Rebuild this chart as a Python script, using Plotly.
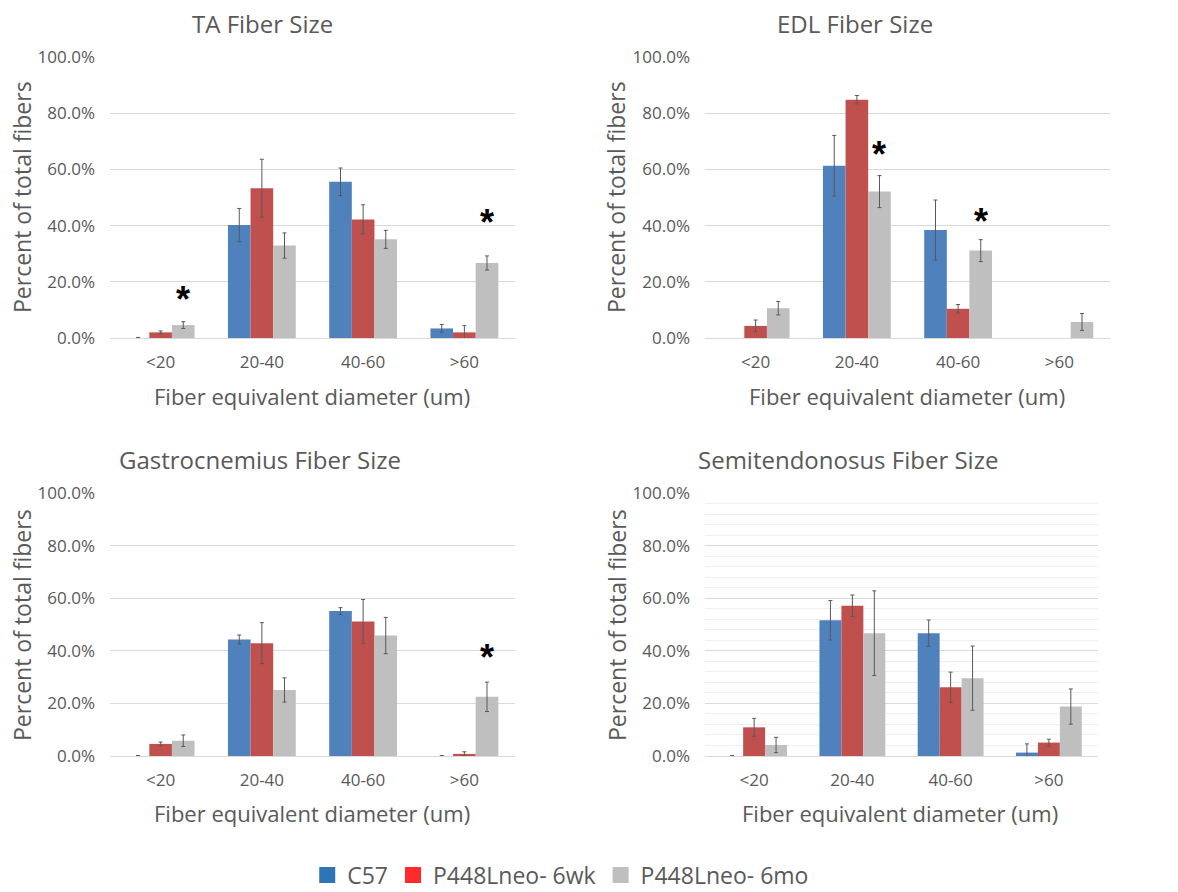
import plotly.graph_objects as go

categories = ["<20", "20-40", "40-60", ">60"]
series_names = ["C57", "P448Lneo- 6wk", "P448Lneo- 6mo"]
panel_titles = ["TA Fiber Size", "EDL Fiber Size", "Gastrocnemius Fiber Size", "Semitendonosus Fiber Size"]

# values (percent of total fibers) per panel, per series
ta_c57 = [0.0, 40.2, 55.6, 3.4]
ta_6wk = [2.0, 53.3, 42.2, 2.0]
ta_6mo = [4.6, 32.9, 35.1, 26.7]
ta_c57_err = [0.2, 5.9, 4.9, 1.4]
ta_6wk_err = [0.5, 10.3, 5.2, 2.4]
ta_6mo_err = [1.2, 4.5, 3.2, 2.5]

edl_c57 = [None, 61.3, 38.4, None]
edl_6wk = [4.3, 84.8, 10.4, None]
edl_6mo = [10.6, 52.1, 31.1, 5.7]
edl_c57_err = [0, 10.8, 10.7, 0]
edl_6wk_err = [2.1, 1.5, 1.5, 0]
edl_6mo_err = [2.4, 5.7, 3.9, 3.0]

gas_c57 = [0.0, 44.3, 55.1, 0.0]
gas_6wk = [4.6, 42.9, 51.1, 0.8]
gas_6mo = [5.8, 25.1, 45.8, 22.5]
gas_c57_err = [0.2, 1.7, 1.3, 0.2]
gas_6wk_err = [0.7, 7.8, 8.4, 0.8]
gas_6mo_err = [2.2, 4.6, 6.9, 5.6]

sem_c57 = [0.0, 51.6, 46.7, 1.3]
sem_6wk = [10.9, 57.1, 26.1, 5.1]
sem_6mo = [4.2, 46.7, 29.6, 18.8]
sem_c57_err = [0.2, 7.5, 5.0, 3.3]
sem_6wk_err = [3.4, 4.1, 5.8, 1.3]
sem_6mo_err = [2.9, 16.1, 12.2, 6.7]

# significance asterisks (category, height in %) per panel
ta_sig_cats = ["<20", ">60"]
ta_sig_y = [15.0, 42.6]
edl_sig_cats = ["20-40", "40-60"]
edl_sig_y = [66.7, 42.8]
gas_sig_cats = [">60"]
gas_sig_y = [38.8]
sem_sig_cats = []
sem_sig_y = []

y_ticks = [0, 20, 40, 60, 80, 100]

# ---------------------------------------------------------------
W, H = 1178, 892
bar_colors = ["#4F81BD", "#C0504D", "#BFBFBF"]
legend_colors = ["#2E75B6", "#FF2A2A", "#BFBFBF"]
txt = "#595959"
FONT = "Open Sans"

panels = [
    dict(vals=[ta_c57, ta_6wk, ta_6mo], errs=[ta_c57_err, ta_6wk_err, ta_6mo_err],
         sig=(ta_sig_cats, ta_sig_y), px=(110, 515), py=(57, 338),
         title=(262, 23), ytitle=(22, 197), xtitle=(312, 396), minor=False),
    dict(vals=[edl_c57, edl_6wk, edl_6mo], errs=[edl_c57_err, edl_6wk_err, edl_6mo_err],
         sig=(edl_sig_cats, edl_sig_y), px=(705, 1110), py=(57, 338),
         title=(855, 23), ytitle=(616, 197), xtitle=(907, 396), minor=False),
    dict(vals=[gas_c57, gas_6wk, gas_6mo], errs=[gas_c57_err, gas_6wk_err, gas_6mo_err],
         sig=(gas_sig_cats, gas_sig_y), px=(110, 515), py=(493, 756),
         title=(260, 459), ytitle=(22, 625), xtitle=(312, 813), minor=False),
    dict(vals=[sem_c57, sem_6wk, sem_6mo], errs=[sem_c57_err, sem_6wk_err, sem_6mo_err],
         sig=(sem_sig_cats, sem_sig_y), px=(705, 1098), py=(493, 756),
         title=(848, 459), ytitle=(617, 625), xtitle=(900, 813), minor=True),
]

BARGAP = 0.33

fig = go.Figure()
annotations = []
layout = {}
for i, p in enumerate(panels):
    k = "" if i == 0 else str(i + 1)
    xa, ya = "x" + k, "y" + k
    for s in range(3):
        fig.add_trace(go.Bar(
            x=categories, y=p["vals"][s], name=series_names[s],
            marker=dict(color=bar_colors[s], line=dict(width=0)),
            error_y=dict(type="data", array=p["errs"][s], color="#595959",
                         thickness=1, width=2),
            xaxis=xa, yaxis=ya, showlegend=False,
        ))
    x0, x1 = p["px"]
    y0, y1 = p["py"]
    layout["xaxis" + k] = dict(
        domain=[x0 / W, x1 / W], anchor=ya, type="category",
        categoryorder="array", categoryarray=categories,
        showline=False, showgrid=False, zeroline=False, ticks="",
        tickfont=dict(family=FONT, size=17, color=txt), ticklabelstandoff=12,
    )
    ydict = dict(
        domain=[1 - y1 / H, 1 - y0 / H], anchor=xa, range=[0, 100],
        tickvals=y_ticks, ticktext=[f"{v:.1f}%" for v in y_ticks],
        showgrid=True, gridcolor="#D9D9D9", gridwidth=1,
        zeroline=True, zerolinecolor="#D9D9D9", zerolinewidth=1,
        showline=False, ticks="",
        tickfont=dict(family=FONT, size=17, color=txt), ticklabelstandoff=14,
    )
    if p["minor"]:
        ydict["minor"] = dict(dtick=4, showgrid=True, gridcolor="#EFEFEF", gridwidth=1)
    layout["yaxis" + k] = ydict

    # significance marks above the 6mo bar
    cat_w = (x1 - x0) / len(categories)
    bar_w = cat_w * (1 - BARGAP) / 3
    for c, yv in zip(*p["sig"]):
        annotations.append(dict(
            x=c, y=yv, xref=xa, yref=ya, text="<b>*</b>", showarrow=False,
            xshift=bar_w, font=dict(family="Arial", size=36, color="black"),
            yanchor="middle", yshift=-4,
        ))
    # titles
    tx, ty = p["title"]
    annotations.append(dict(x=tx / W, y=1 - ty / H, xref="paper", yref="paper",
                            text=panel_titles[i], showarrow=False,
                            xanchor="center", yanchor="middle",
                            font=dict(family=FONT, size=24, color=txt)))
    yx, yy = p["ytitle"]
    annotations.append(dict(x=yx / W, y=1 - yy / H, xref="paper", yref="paper",
                            text="Percent of total fibers", showarrow=False, textangle=-90,
                            xanchor="center", yanchor="middle",
                            font=dict(family=FONT, size=23, color=txt)))
    xx, xy = p["xtitle"]
    annotations.append(dict(x=xx / W, y=1 - xy / H, xref="paper", yref="paper",
                            text="Fiber equivalent diameter (um)", showarrow=False,
                            xanchor="center", yanchor="middle",
                            font=dict(family=FONT, size=22, color=txt)))

# legend entries
for s in range(3):
    fig.add_trace(go.Scatter(
        x=[None], y=[None], mode="markers", name=series_names[s],
        marker=dict(symbol="square", size=16, color=legend_colors[s]),
        showlegend=True,
    ))

fig.update_layout(
    width=W, height=H, margin=dict(l=0, r=0, t=0, b=0, autoexpand=False),
    paper_bgcolor="white", plot_bgcolor="white",
    barmode="group", bargap=BARGAP, bargroupgap=0,
    annotations=annotations,
    legend=dict(orientation="h", x=0.476, xanchor="center", y=1 - 875 / H,
                yanchor="middle", font=dict(family=FONT, size=23, color=txt),
                itemwidth=30, tracegroupgap=0, bgcolor="rgba(0,0,0,0)"),
    **layout,
)

fig.write_html("out.html", config={"displayModeBar": False},
               post_script="document.body.style.margin='0px';document.body.style.overflow='hidden';")
